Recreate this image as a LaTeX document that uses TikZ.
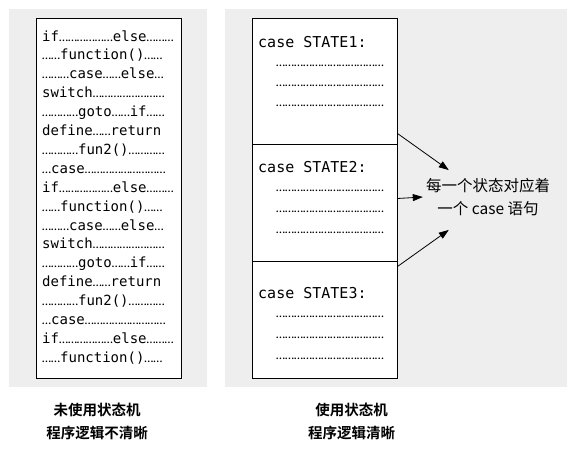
\documentclass[tikz,border=0pt]{standalone}
\usepackage{fontspec}
\setmonofont{DejaVu Sans Mono}
\newfontfamily\dotfont{Carlito}
\newfontfamily\cjk[BoldFont={Noto Sans CJK SC Bold}]{Noto Sans CJK SC}
\usetikzlibrary{arrows.meta}
\definecolor{panelgray}{RGB}{238,238,238}
\tikzstyle{panel} = [fill=panelgray, draw=none, inner sep=0, minimum height=378pt]
\tikzstyle{box} = [draw, fill=white, line width=1pt, inner sep=0, minimum width=145pt]
\tikzstyle{codeline} = [anchor=base west, inner sep=0, font=\ttfamily\fontsize{14}{16}\selectfont]
\tikzstyle{caseline} = [anchor=base west, inner sep=0, font=\ttfamily\fontsize{15}{18}\selectfont]
\tikzstyle{dotline} = [anchor=base west, inner sep=0]
\tikzstyle{caption} = [align=center, inner sep=0, font=\cjk\bfseries\fontsize{14.5}{23}\selectfont]
\tikzstyle{link} = [-{Triangle[length=10pt,width=7pt]}, line width=0.8pt]

% a run of ellipsis dots
\newcommand\dts[1]{{\dotfont\fontsize{13}{16}\selectfont\foreach\k in {1,...,#1}{…}}}

\begin{document}
\begin{tikzpicture}[x=1pt,y=-1pt]
    \useasboundingbox (0,0) rectangle (576,463);

    \node[panel, minimum width=198pt] (leftbg) at (108,198) {};
    \node[panel, minimum width=342pt] (rightbg) at (396,198) {};

    % without a state machine
    \node[box, minimum height=360pt] (code) at (108.5,198) {};
    \foreach \txt [count=\i] in {
        {if\dts{6}else\dts{3}},
        {\dts{2}function()\dts{2}},
        {\dts{3}case\dts{2}else\dts{1}},
        {switch\dts{8}},
        {\dts{4}goto\dts{2}if\dts{2}},
        {define\dts{2}return},
        {\dts{4}fun2()\dts{4}},
        {\dts{1}case\dts{9}},
        {if\dts{6}else\dts{3}},
        {\dts{2}function()\dts{2}},
        {\dts{3}case\dts{2}else\dts{1}},
        {switch\dts{8}},
        {\dts{4}goto\dts{2}if\dts{2}},
        {define\dts{2}return},
        {\dts{4}fun2()\dts{4}},
        {\dts{1}case\dts{9}},
        {if\dts{6}else\dts{3}},
        {\dts{2}function()\dts{2}}}
        \node[codeline] (line\i) at (42,{41+18.9*(\i-1)}) {\txt};

    % with a state machine
    \node[box, minimum height=126pt] (s1) at (324.5,81) {};
    \node[box, minimum height=117pt] (s2) at (324.5,202.5) {};
    \node[box, minimum height=117pt] (s3) at (324.5,319.5) {};

    \node[caseline] (case1) at (258,47) {case STATE1:};
    \node[caseline] (case2) at (258,172) {case STATE2:};
    \node[caseline] (case3) at (258,298) {case STATE3:};
    \foreach \y [count=\i] in {66.7,86.7,106.7,191.7,212.7,233.3,317.7,338.3,359.3}
        \node[dotline] (row\i) at (276,\y) {\dts{12}};

    \node[align=center, inner sep=0, font=\cjk\fontsize{15.5}{23}\selectfont] (note) at (488,197)
        {每一个状态对应着\\一个 case 语句};
    \draw[link] ([yshift=11pt]s1.south east) -- ([xshift=23pt,yshift=8pt]note.north west);
    \draw[link] ([yshift=4pt]s2.east) -- ([xshift=-3pt]note.west);
    \draw[link] ([yshift=-6pt]s3.north east) -- ([xshift=23pt,yshift=-14pt]note.south west);

    \node[caption] (cap1) at (97,421.5) {未使用状态机\\程序逻辑不清晰};
    \node[caption] (cap2) at (351.5,421.5) {使用状态机\\程序逻辑清晰};
\end{tikzpicture}
\end{document}
